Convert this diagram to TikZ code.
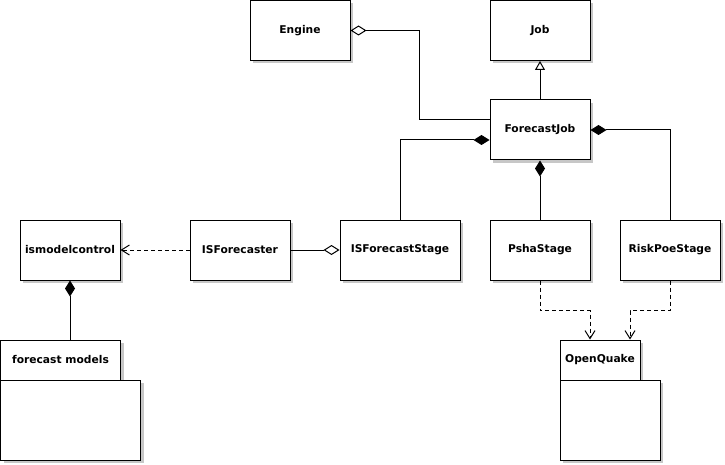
\documentclass[tikz,border=0pt]{standalone}
\usepackage{fontspec}
\setmainfont{DejaVu Sans}
\usetikzlibrary{arrows.meta,shadows,calc}
\begin{document}
\begin{tikzpicture}[x=1pt,y=-1pt,
  shadowed/.style={drop shadow={shadow xshift=3pt,shadow yshift=-3pt,fill=black!22,opacity=1}},
  umlbox/.style={draw,fill=white,line width=1pt,inner sep=0pt,shadowed,
    font=\bfseries\fontsize{10.7}{13}\selectfont},
  umlclass/.style={umlbox,minimum width=100pt,minimum height=60pt},
  conn/.style={line width=1pt},
  depend/.style={conn,dash pattern=on 4pt off 3pt,-{Straight Barb[length=8pt,width=10pt]}},
  compo/.style={conn,{Diamond[length=16pt,width=10pt]}-},
  aggr/.style={conn,-{Diamond[open,length=16pt,width=10pt,fill=white]}},
  inherit/.style={conn,-{Triangle[open,length=9pt,width=10pt,fill=white]}}
]
\useasboundingbox (0,0) rectangle (725,465);
% classes
\node[umlclass] (engine) at (300,30.5) {Engine};
\node[umlclass] (job) at (540,30.5) {Job};
\node[umlclass] (fj) at (540,130) {ForecastJob};
\node[umlclass,minimum width=120pt] (isfs) at (400,250) {ISForecastStage};
\node[umlclass] (psha) at (540,250) {PshaStage};
\node[umlclass] (risk) at (670,250) {RiskPoeStage};
\node[umlclass] (isf) at (240,250) {ISForecaster};
\node[umlclass] (imc) at (70,250) {ismodelcontrol};
% packages
\node[umlbox,minimum width=120pt,minimum height=40pt] (fmtab) at (60.5,360) {forecast models};
\node[umlbox,minimum width=140pt,minimum height=80pt] (fmbody) at (70.5,420) {};
\node[umlbox,minimum width=80pt,minimum height=40pt] (oqtab) at (600,360) {OpenQuake};
\node[umlbox,minimum width=100pt,minimum height=80pt] (oqbody) at (610,420) {};
% connectors
\draw[aggr] ($(fj.west)+(0,-10)$) -- ++(-70,0) |- (engine.east);
\draw[inherit] (fj.north) -- (job.south);
\draw[compo] ($(fj.west)+(0,10)$) -| (isfs.north);
\draw[compo] (fj.east) -| (risk.north);
\draw[compo] (fj.south) -- (psha.north);
\draw[aggr] (isf.east) -- (isfs.west);
\draw[depend] (isf.west) -- (imc.east);
\draw[compo] (imc.south) -- (imc.south |- fmtab.north);
\draw[depend] (psha.south) -- ++(0,30) -| ($(oqtab.north)+(-10,0)$);
\draw[depend] (risk.south) -- ++(0,30) -| ($(oqtab.north)+(30,0)$);
\end{tikzpicture}
\end{document}
